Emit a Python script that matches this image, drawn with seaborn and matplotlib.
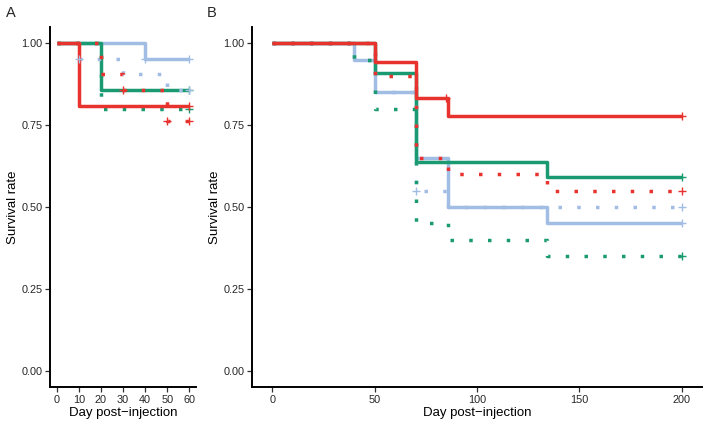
import matplotlib
matplotlib.use("Agg")
import matplotlib.pyplot as plt
import numpy as np
import pandas as pd
import seaborn as sns

# colours of the three groups
red = "#E8322D"
green = "#1A9A70"
blue = "#A1BDE3"

# ---- panel A : 0-60 days ----
a_red_solid_t = [0, 10, 60]
a_red_solid_s = [1.0, 0.810, 0.810]
a_red_solid_cens = [60]

a_green_solid_t = [0, 20, 60]
a_green_solid_s = [1.0, 0.857, 0.857]
a_green_solid_cens = [60]

a_blue_solid_t = [0, 40, 60]
a_blue_solid_s = [1.0, 0.952, 0.952]
a_blue_solid_cens = [40, 60]

a_red_dot_t = [0, 20, 30, 50, 60]
a_red_dot_s = [1.0, 0.905, 0.857, 0.762, 0.762]
a_red_dot_cens = [30, 50, 60]

a_green_dot_t = [0, 20, 60]
a_green_dot_s = [1.0, 0.800, 0.800]
a_green_dot_cens = [60]

a_blue_dot_t = [0, 10, 30, 50, 60]
a_blue_dot_s = [1.0, 0.952, 0.905, 0.857, 0.857]
a_blue_dot_cens = [10, 60]

# ---- panel B : 0-200 days ----
b_red_solid_t = [0, 50, 70, 86, 200]
b_red_solid_s = [1.0, 0.944, 0.833, 0.778, 0.778]
b_red_solid_cens = [85, 200]

b_green_solid_t = [0, 50, 70, 134, 200]
b_green_solid_s = [1.0, 0.909, 0.636, 0.591, 0.591]
b_green_solid_cens = [200]

b_blue_solid_t = [0, 40, 50, 70, 86, 134, 200]
b_blue_solid_s = [1.0, 0.95, 0.85, 0.65, 0.50, 0.45, 0.45]
b_blue_solid_cens = [200]

b_red_dot_t = [0, 50, 70, 86, 134, 200]
b_red_dot_s = [1.0, 0.90, 0.65, 0.60, 0.55, 0.55]
b_red_dot_cens = [200]

b_green_dot_t = [0, 40, 50, 70, 86, 134, 200]
b_green_dot_s = [1.0, 0.95, 0.80, 0.45, 0.40, 0.35, 0.35]
b_green_dot_cens = [200]

b_blue_dot_t = [0, 40, 50, 70, 86, 200]
b_blue_dot_s = [1.0, 0.95, 0.85, 0.55, 0.50, 0.50]
b_blue_dot_cens = [70, 200]

y_ticks = [0, 0.25, 0.5, 0.75, 1.0]
a_x_ticks = [0, 10, 20, 30, 40, 50, 60]
b_x_ticks = [0, 50, 100, 150, 200]

sns.set_theme(style="ticks")
plt.rcParams["font.family"] = ["Liberation Sans", "DejaVu Sans"]

dotted = (0, (1, 4.4))


def step_value(t, s, x):
    # survival of the step curve at time x (right-continuous)
    i = np.searchsorted(t, x, side="right") - 1
    return s[i]


def draw_panel(ax, curves, xlim, xticks):
    for t, s, cens, col, ls in curves:
        df = pd.DataFrame({"day": t, "surv": s})
        sns.lineplot(data=df, x="day", y="surv", ax=ax, color=col,
                     estimator=None, sort=False, drawstyle="steps-post",
                     linewidth=2.5, linestyle=ls, solid_capstyle="butt")
    for t, s, cens, col, ls in curves:
        cdf = pd.DataFrame({"day": cens,
                            "surv": [step_value(t, s, c) for c in cens]})
        sns.scatterplot(data=cdf, x="day", y="surv", ax=ax, color=col,
                        marker="+", s=36, linewidth=1.0, zorder=5)
    ax.set_xlim(*xlim)
    ax.set_ylim(-0.05, 1.05)
    ax.set_xticks(xticks)
    ax.set_yticks(y_ticks)
    ax.set_yticklabels([f"{v:.2f}" for v in y_ticks])
    ax.set_xlabel("Day post\u2212injection", fontsize=9.5, color="black", labelpad=2)
    ax.set_ylabel("Survival rate", fontsize=9.5, color="black", labelpad=1.5)
    ax.tick_params(axis="both", labelsize=7.8, labelcolor="#262626",
                   color="#303030", length=3.5, width=0.9, pad=2)
    for side in ["top", "right"]:
        ax.spines[side].set_visible(False)
    for side in ["left", "bottom"]:
        ax.spines[side].set_linewidth(1.4)
        ax.spines[side].set_color("black")


fig = plt.figure(figsize=(7.09, 4.26), dpi=100)
ax_a = fig.add_axes([50 / 709, 39 / 426, 146 / 709, 360 / 426])
ax_b = fig.add_axes([252 / 709, 39 / 426, 450 / 709, 360 / 426])

curves_a = [
    (a_blue_solid_t, a_blue_solid_s, a_blue_solid_cens, blue, "-"),
    (a_green_solid_t, a_green_solid_s, a_green_solid_cens, green, "-"),
    (a_blue_dot_t, a_blue_dot_s, a_blue_dot_cens, blue, dotted),
    (a_green_dot_t, a_green_dot_s, a_green_dot_cens, green, dotted),
    (a_red_dot_t, a_red_dot_s, a_red_dot_cens, red, dotted),
    (a_red_solid_t, a_red_solid_s, a_red_solid_cens, red, "-"),
]
curves_b = [
    (b_blue_solid_t, b_blue_solid_s, b_blue_solid_cens, blue, "-"),
    (b_green_solid_t, b_green_solid_s, b_green_solid_cens, green, "-"),
    (b_blue_dot_t, b_blue_dot_s, b_blue_dot_cens, blue, dotted),
    (b_green_dot_t, b_green_dot_s, b_green_dot_cens, green, dotted),
    (b_red_dot_t, b_red_dot_s, b_red_dot_cens, red, dotted),
    (b_red_solid_t, b_red_solid_s, b_red_solid_cens, red, "-"),
]

draw_panel(ax_a, curves_a, (-3, 63), a_x_ticks)
draw_panel(ax_b, curves_b, (-10, 210), b_x_ticks)

fig.text(11 / 709, 1 - 13 / 426, "A", fontsize=10.5, ha="center", va="center")
fig.text(212 / 709, 1 - 13 / 426, "B", fontsize=10.5, ha="center", va="center")

fig.savefig("out.png", dpi=100)
